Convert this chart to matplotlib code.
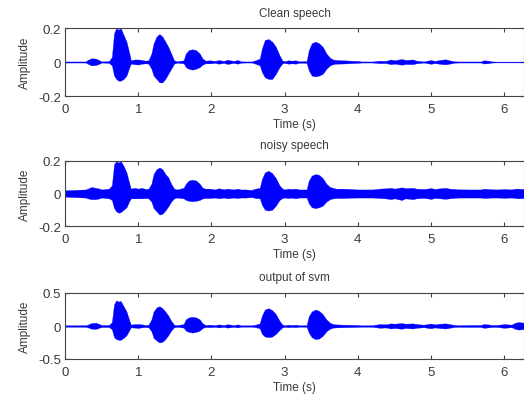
import numpy as np
import matplotlib
matplotlib.use("Agg")
import matplotlib.pyplot as plt

plt.rcParams['font.family'] = ['Liberation Sans', 'DejaVu Sans']

# Shared time knots (s) for envelope readings
time_s = [0, 0.28, 0.31, 0.36, 0.42, 0.47, 0.5, 0.6, 0.64, 0.67, 0.7, 0.73, 0.76, 0.8, 0.84, 0.88,
          0.9, 0.95, 1.0, 1.05, 1.1, 1.14, 1.18, 1.21, 1.25, 1.29, 1.33, 1.37, 1.41, 1.45, 1.49,
          1.53, 1.62, 1.65, 1.69, 1.74, 1.79, 1.84, 1.88, 1.92, 1.98, 2.05, 2.1, 2.17, 2.22, 2.3,
          2.36, 2.4, 2.47, 2.55, 2.6, 2.66, 2.69, 2.73, 2.78, 2.83, 2.88, 2.93, 2.97, 3.0, 3.05,
          3.1, 3.15, 3.2, 3.3, 3.33, 3.37, 3.42, 3.47, 3.52, 3.57, 3.62, 3.66, 3.7, 3.8, 3.9, 4.0,
          4.05, 4.2, 4.3, 4.38, 4.45, 4.5, 4.6, 4.65, 4.75, 4.8, 4.9, 4.95, 5.0, 5.05, 5.12, 5.2,
          5.25, 5.32, 5.38, 5.5, 5.68, 5.72, 5.78, 5.83, 5.9, 6.0, 6.1, 6.15, 6.2, 6.27]

clean_upper = [0.003, 0.003, 0.012, 0.022, 0.02, 0.01, 0.003, 0.005, 0.03, 0.17, 0.2, 0.19, 0.2, 0.16, 0.12, 0.05,
               0.01, 0.015, 0.015, 0.012, 0.008, 0.01, 0.05, 0.11, 0.15, 0.165, 0.15, 0.12, 0.09, 0.05, 0.01,
               0.004, 0.01, 0.05, 0.07, 0.075, 0.07, 0.05, 0.02, 0.008, 0.01, 0.006, 0.012, 0.006, 0.014, 0.006,
               0.012, 0.004, 0.003, 0.003, 0.01, 0.02, 0.08, 0.13, 0.135, 0.12, 0.09, 0.04, 0.008, 0.005, 0.01,
               0.008, 0.01, 0.004, 0.005, 0.07, 0.11, 0.12, 0.11, 0.09, 0.05, 0.025, 0.015, 0.012, 0.01, 0.008, 0.006,
               0.003, 0.003, 0.008, 0.006, 0.015, 0.01, 0.018, 0.012, 0.015, 0.008, 0.003, 0.008, 0.012, 0.006, 0.012, 0.016,
               0.01, 0.004, 0.003, 0.003, 0.003, 0.01, 0.008, 0.003, 0.002, 0.002, 0.002, 0.002, 0.002, 0.002]
clean_lower = [-0.003, -0.003, -0.01, -0.02, -0.018, -0.01, -0.003, -0.005, -0.02, -0.08, -0.1, -0.11, -0.11, -0.1, -0.08, -0.03,
               -0.01, -0.013, -0.015, -0.01, -0.008, -0.01, -0.04, -0.08, -0.1, -0.12, -0.12, -0.1, -0.07, -0.04, -0.01,
               -0.004, -0.008, -0.03, -0.04, -0.045, -0.04, -0.03, -0.015, -0.008, -0.008, -0.005, -0.01, -0.005, -0.012, -0.005,
               -0.01, -0.004, -0.003, -0.003, -0.01, -0.02, -0.06, -0.09, -0.1, -0.1, -0.07, -0.03, -0.008, -0.005, -0.01,
               -0.008, -0.01, -0.004, -0.005, -0.05, -0.08, -0.085, -0.08, -0.07, -0.04, -0.02, -0.013, -0.01, -0.009, -0.007, -0.005,
               -0.003, -0.003, -0.007, -0.006, -0.013, -0.01, -0.016, -0.012, -0.013, -0.008, -0.003, -0.007, -0.011, -0.006, -0.011, -0.014,
               -0.01, -0.004, -0.003, -0.003, -0.003, -0.009, -0.007, -0.003, -0.002, -0.002, -0.002, -0.002, -0.002, -0.002]

noisy_upper = [0.02, 0.025, 0.03, 0.04, 0.035, 0.03, 0.025, 0.03, 0.05, 0.18, 0.2, 0.19, 0.2, 0.17, 0.13, 0.06,
               0.03, 0.035, 0.03, 0.035, 0.028, 0.03, 0.06, 0.12, 0.15, 0.16, 0.15, 0.12, 0.1, 0.06, 0.03,
               0.025, 0.035, 0.06, 0.08, 0.085, 0.08, 0.06, 0.035, 0.03, 0.03, 0.025, 0.032, 0.026, 0.03, 0.025,
               0.03, 0.025, 0.025, 0.022, 0.03, 0.035, 0.09, 0.13, 0.14, 0.125, 0.095, 0.05, 0.03, 0.025, 0.03,
               0.028, 0.03, 0.025, 0.025, 0.08, 0.11, 0.12, 0.115, 0.095, 0.06, 0.04, 0.035, 0.03, 0.03, 0.028, 0.025,
               0.025, 0.025, 0.03, 0.032, 0.035, 0.03, 0.038, 0.033, 0.035, 0.03, 0.028, 0.03, 0.034, 0.028, 0.032, 0.035,
               0.03, 0.028, 0.026, 0.025, 0.025, 0.03, 0.028, 0.026, 0.025, 0.028, 0.025, 0.03, 0.03, 0.028]
noisy_lower = [-0.02, -0.025, -0.03, -0.035, -0.035, -0.03, -0.025, -0.03, -0.04, -0.09, -0.11, -0.118, -0.115, -0.1, -0.085, -0.045,
               -0.03, -0.03, -0.03, -0.03, -0.028, -0.03, -0.05, -0.09, -0.11, -0.13, -0.125, -0.105, -0.08, -0.05, -0.03,
               -0.025, -0.03, -0.04, -0.045, -0.048, -0.045, -0.04, -0.03, -0.028, -0.028, -0.025, -0.03, -0.025, -0.03, -0.025,
               -0.028, -0.025, -0.025, -0.022, -0.028, -0.03, -0.07, -0.1, -0.105, -0.1, -0.075, -0.04, -0.028, -0.025, -0.028,
               -0.026, -0.03, -0.025, -0.025, -0.06, -0.085, -0.09, -0.085, -0.075, -0.05, -0.035, -0.03, -0.028, -0.028, -0.026, -0.025,
               -0.025, -0.025, -0.028, -0.03, -0.035, -0.03, -0.04, -0.03, -0.035, -0.03, -0.027, -0.03, -0.034, -0.027, -0.03, -0.033,
               -0.03, -0.027, -0.025, -0.025, -0.025, -0.028, -0.027, -0.025, -0.025, -0.027, -0.025, -0.028, -0.03, -0.028]

svm_upper = [0.01, 0.012, 0.02, 0.045, 0.05, 0.03, 0.015, 0.015, 0.06, 0.33, 0.39, 0.37, 0.38, 0.3, 0.22, 0.08,
             0.02, 0.03, 0.03, 0.025, 0.015, 0.02, 0.1, 0.22, 0.28, 0.3, 0.27, 0.22, 0.16, 0.08, 0.02,
             0.012, 0.03, 0.1, 0.13, 0.14, 0.13, 0.1, 0.04, 0.015, 0.02, 0.012, 0.025, 0.012, 0.028, 0.012,
             0.025, 0.01, 0.01, 0.01, 0.02, 0.04, 0.16, 0.25, 0.27, 0.24, 0.18, 0.08, 0.02, 0.012, 0.02,
             0.015, 0.02, 0.01, 0.012, 0.15, 0.22, 0.25, 0.23, 0.18, 0.1, 0.05, 0.03, 0.025, 0.02, 0.018, 0.015,
             0.01, 0.012, 0.03, 0.025, 0.04, 0.035, 0.045, 0.035, 0.04, 0.03, 0.02, 0.03, 0.038, 0.025, 0.035, 0.04,
             0.03, 0.015, 0.012, 0.015, 0.015, 0.03, 0.025, 0.015, 0.015, 0.03, 0.02, 0.05, 0.06, 0.05]
svm_lower = [-0.01, -0.012, -0.02, -0.04, -0.045, -0.025, -0.015, -0.015, -0.05, -0.17, -0.2, -0.21, -0.21, -0.18, -0.14, -0.06,
             -0.02, -0.025, -0.03, -0.02, -0.015, -0.02, -0.08, -0.18, -0.22, -0.25, -0.24, -0.2, -0.14, -0.07, -0.02,
             -0.012, -0.025, -0.07, -0.09, -0.1, -0.09, -0.07, -0.03, -0.015, -0.018, -0.012, -0.022, -0.012, -0.025, -0.012,
             -0.022, -0.01, -0.01, -0.01, -0.018, -0.035, -0.12, -0.16, -0.17, -0.16, -0.12, -0.06, -0.02, -0.012, -0.018,
             -0.014, -0.018, -0.01, -0.012, -0.1, -0.17, -0.2, -0.19, -0.15, -0.08, -0.04, -0.025, -0.022, -0.018, -0.016, -0.013,
             -0.01, -0.012, -0.028, -0.022, -0.038, -0.03, -0.042, -0.03, -0.038, -0.028, -0.018, -0.028, -0.035, -0.022, -0.032, -0.038,
             -0.028, -0.014, -0.012, -0.014, -0.014, -0.028, -0.022, -0.014, -0.014, -0.028, -0.018, -0.045, -0.055, -0.045]

titles = ["Clean speech", "noisy speech", "output of svm"]
ylims = [(-0.2, 0.2), (-0.2, 0.2), (-0.5, 0.5)]
yticks = [[-0.2, 0, 0.2], [-0.2, 0, 0.2], [-0.5, 0, 0.5]]
ytick_labels = [["-0.2", "0", "0.2"], ["-0.2", "0", "0.2"], ["-0.5", "0", "0.5"]]
xticks = [0, 1, 2, 3, 4, 5, 6]
xlim = (0, 6.27)

series = [(clean_upper, clean_lower), (noisy_upper, noisy_lower), (svm_upper, svm_lower)]

W, H = 524, 402
fig = plt.figure(figsize=(W / 100, H / 100), dpi=100)

# axes pixel boxes: (left, top, right, bottom)
boxes = [(65, 29, 524, 97), (65, 162, 524, 227), (65, 294, 524, 360)]
txt = '#3a3a3a'
fs = 9.5
for i, (box, (up, lo)) in enumerate(zip(boxes, series)):
    l, t, r, b = box
    ax = fig.add_axes([l / W, 1 - b / H, (r - l) / W, (b - t) / H])
    ax.axhline(0, color='#8c8cff', lw=1.0, zorder=1)
    ax.fill_between(time_s, lo, up, color='#0000ff', lw=0.2, zorder=2)
    ax.set_xlim(*xlim)
    ax.set_ylim(*ylims[i])
    ax.set_xticks(xticks)
    ax.set_xticklabels([str(v) for v in xticks])
    ax.set_yticks(yticks[i])
    ax.set_yticklabels(ytick_labels[i])
    ax.tick_params(direction='in', length=3, width=0.8, top=True, right=True,
                   colors='#444444', labelcolor=txt, labelsize=fs)
    ax.tick_params(axis='x', pad=5)
    ax.tick_params(axis='y', pad=3)
    for s in ax.spines.values():
        s.set_color('#444444')
        s.set_linewidth(0.8)
    ax.set_title(titles[i], fontsize=fs - 1, color=txt, pad=9)
    ax.set_xlabel("Time (s)", fontsize=fs - 1, color=txt, labelpad=2)
    ax.set_ylabel("Amplitude", fontsize=fs - 1, color=txt, labelpad=5)

fig.savefig("out.png", dpi=100)
